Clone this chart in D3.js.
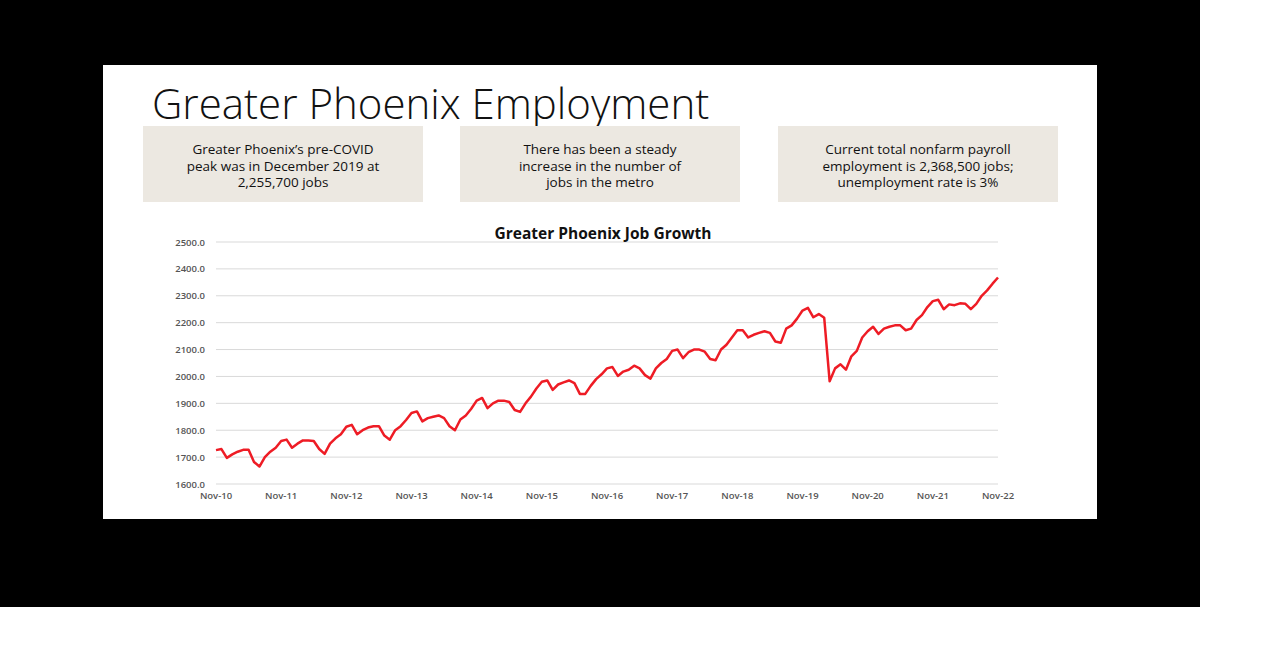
<!DOCTYPE html>
<html><head><meta charset="utf-8">
<script src="https://cdn.jsdelivr.net/npm/d3@7"></script>
<style>body{margin:0;background:#fff}svg{display:block}</style>
</head><body><svg id="c" width="1280" height="672"></svg>
<script>
const title = "Greater Phoenix Employment";
const chartTitle = "Greater Phoenix Job Growth";
const boxTexts = [
  ["Greater Phoenix’s pre-COVID","peak was in December 2019 at","2,255,700 jobs"],
  ["There has been a steady","increase in the number of","jobs in the metro"],
  ["Current total nonfarm payroll","employment is 2,368,500 jobs;","unemployment rate is 3%"]
];
const yTicks = [1600,1700,1800,1900,2000,2100,2200,2300,2400,2500];
const xTickLabels = ["Nov-10","Nov-11","Nov-12","Nov-13","Nov-14","Nov-15","Nov-16","Nov-17","Nov-18","Nov-19","Nov-20","Nov-21","Nov-22"];
// Monthly jobs (thousands), Nov-10 .. Nov-22
const jobs = [
 1726,1730,1697,1710,1720,1727,1727,1682,1665,1700,1720,1735,
 1760,1765,1735,1750,1762,1762,1760,1730,1712,1750,1770,1785,
 1813,1820,1785,1800,1810,1815,1815,1780,1765,1800,1815,1838,
 1864,1870,1833,1845,1850,1855,1845,1815,1800,1840,1855,1880,
 1910,1920,1882,1900,1910,1910,1905,1875,1868,1900,1925,1955,
 1980,1985,1950,1970,1978,1985,1975,1935,1935,1965,1990,2008,
 2030,2035,2002,2018,2025,2040,2030,2005,1992,2030,2050,2065,
 2095,2100,2068,2090,2100,2100,2092,2065,2060,2100,2118,2145,
 2172,2172,2145,2155,2162,2168,2162,2130,2125,2178,2190,2215,
 2245,2255,2220,2232,2218,1982,2030,2045,2025,2075,2095,2145,
 2168,2185,2158,2178,2185,2190,2190,2172,2178,2210,2228,2258,
 2280,2285,2250,2268,2265,2272,2270,2250,2270,2300,2320,2345,
 2368
];
const svg = d3.select("#c");
svg.append("rect").attr("width",1200).attr("height",607).attr("fill","#000");
svg.append("rect").attr("x",103).attr("y",65).attr("width",994).attr("height",454).attr("fill","#fff");
svg.append("text").attr("x",152).attr("y",119).attr("font-family","'Open Sans',sans-serif").attr("font-weight",300)
  .attr("font-size",42).attr("fill","#111").text(title);
const boxX=[143,460,778];
boxTexts.forEach((lines,i)=>{
  svg.append("rect").attr("x",boxX[i]).attr("y",126).attr("width",280).attr("height",76).attr("fill","#ece8e1");
  lines.forEach((l,j)=>svg.append("text").attr("x",boxX[i]+140).attr("y",154+j*16.5).attr("text-anchor","middle")
    .attr("font-family","'Open Sans',sans-serif").attr("font-size",13.5).attr("fill","#111").text(l));
});
const x = d3.scaleLinear().domain([0,jobs.length-1]).range([216,998]);
const y = d3.scaleLinear().domain([1600,2500]).range([484,242]);
const g = svg.append("g");
g.selectAll("line.grid").data(yTicks).join("line").attr("x1",216).attr("x2",998)
  .attr("y1",d=>y(d)).attr("y2",d=>y(d)).attr("stroke","#d9d9d9").attr("stroke-width",1);
g.selectAll("text.yl").data(yTicks).join("text").attr("x",205).attr("y",d=>y(d)+3.5).attr("text-anchor","end")
  .attr("font-family","'Open Sans',sans-serif").attr("font-size",9.5).attr("font-weight",600).attr("fill","#555").text(d=>d.toFixed(1));
g.selectAll("text.xl").data(xTickLabels).join("text").attr("x",(d,i)=>x(i*12)).attr("y",499).attr("text-anchor","middle")
  .attr("font-family","'Open Sans',sans-serif").attr("font-size",9.5).attr("font-weight",600).attr("fill","#555").text(d=>d);
svg.append("text").attr("x",603).attr("y",239).attr("text-anchor","middle").attr("font-family","'Open Sans',sans-serif")
  .attr("font-weight",700).attr("font-size",15.5).attr("fill","#111").text(chartTitle);
svg.append("path").datum(jobs).attr("d",d3.line().x((d,i)=>x(i)).y(d=>y(d)))
  .attr("fill","none").attr("stroke","#ee1c25").attr("stroke-width",2.5).attr("stroke-linejoin","round");
</script></body></html>
